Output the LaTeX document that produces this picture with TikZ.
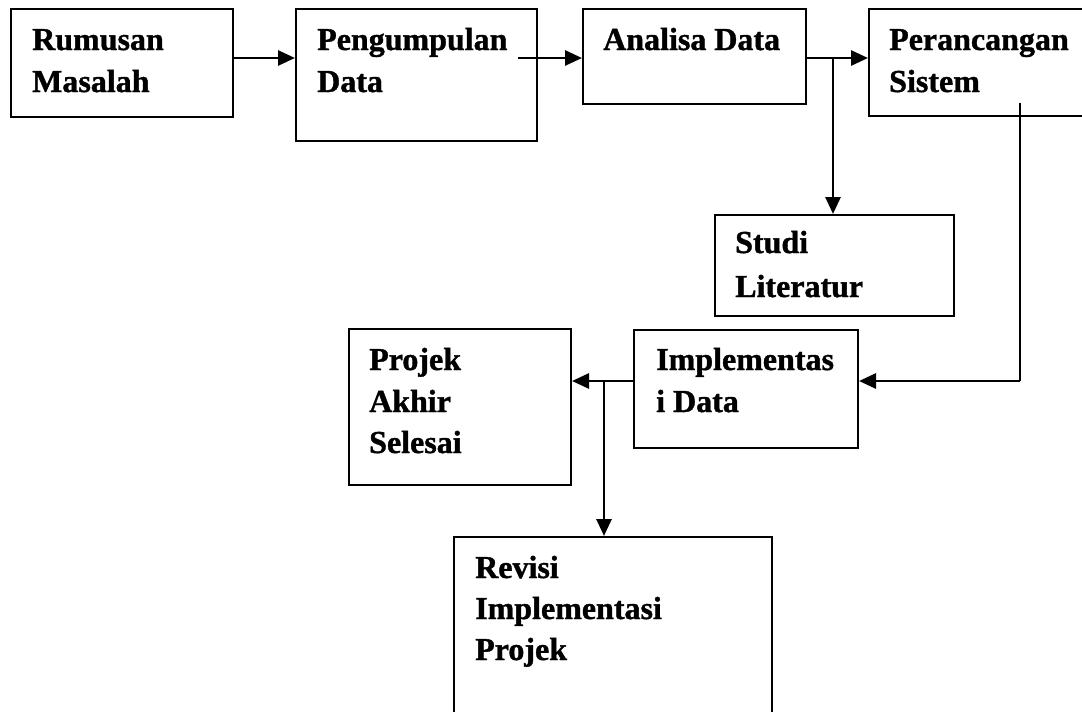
\documentclass[tikz,border=0pt]{standalone}
\usepackage{fontspec}
\setmainfont{Liberation Serif}
\newfontfamily\bxfont{Liberation Serif Bold}[FakeBold=1.2]
\usetikzlibrary{arrows.meta}
\tikzset{
  x=1pt, y=-1pt,
  box/.style={draw, line width=2pt, rectangle, inner sep=0pt, anchor=north west},
  txt/.style={font=\bxfont\fontsize{32}{42}\selectfont, anchor=base west, inner sep=0pt},
  arr/.style={line width=2.8pt, -{Triangle[length=17pt,width=15pt]}},
  thin/.style={line width=1.8pt},
}
\begin{document}
\begin{tikzpicture}
\useasboundingbox (0,0) rectangle (1082,712);
\clip (0,0) rectangle (1082,712);
% boxes
\node[box, minimum width=222pt, minimum height=108pt] (rm) at (10,8) {};
\node[box, minimum width=241pt, minimum height=132pt] (pg) at (295,8) {};
\node[box, minimum width=223pt, minimum height=95pt] (an) at (582,8) {};
\node[box, minimum width=240pt, minimum height=107pt] (pr) at (868,8) {};
\node[box, minimum width=239pt, minimum height=101pt] (st) at (714,214) {};
\node[box, minimum width=224pt, minimum height=118pt] (im) at (633,329) {};
\node[box, minimum width=222pt, minimum height=156pt] (pj) at (348,328) {};
\node[box, minimum width=318pt, minimum height=200pt] (rv) at (453,536) {};
% texts
\node[txt] (rm1) at (32,50) {Rumusan};
\node[txt] (rm2) at (32,92) {Masalah};
\node[txt] (pg1) at (317,50) {Pengumpulan};
\node[txt] (pg2) at (317,92) {Data};
\node[txt] (an1) at (603,50) {Analisa Data};
\node[txt] (pr1) at (889,50) {Perancangan};
\node[txt] (pr2) at (889,92) {Sistem};
\node[txt] (st1) at (735,253) {Studi};
\node[txt] (st2) at (735,297) {Literatur};
\node[txt] (im1) at (656,370) {Implementas};
\node[txt] (im2) at (656,412) {i Data};
\node[txt] (pj1) at (369,370) {Projek};
\node[txt] (pj2) at (369,412) {Akhir};
\node[txt] (pj3) at (369,453) {Selesai};
\node[txt] (rv1) at (475,578) {Revisi};
\node[txt] (rv2) at (475,619) {Implementasi};
\node[txt] (rv3) at (475,660) {Projek};
% connector coordinates
\coordinate (ya) at (0,58);
\coordinate (s2) at (518,58);
\coordinate (b1) at (833,58);
\coordinate (p1) at (1020,103);
\coordinate (p2) at (1020,381);
\coordinate (b2) at (604,381);
% connectors
\draw[arr] (rm.east |- ya) -- (pg.west |- ya);
\draw[arr] (s2) -- (an.west |- ya);
\draw[arr] (an.east |- ya) -- (pr.west |- ya);
\draw[arr] (b1) -- (st.north -| b1);
\draw[thin] (p1) -- (p2);
\draw[arr] (p2) -- (im.east |- p2);
\draw[arr] (im.west |- p2) -- (pj.east |- p2);
\draw[arr] (b2) -- (rv.north -| b2);
\end{tikzpicture}
\end{document}
